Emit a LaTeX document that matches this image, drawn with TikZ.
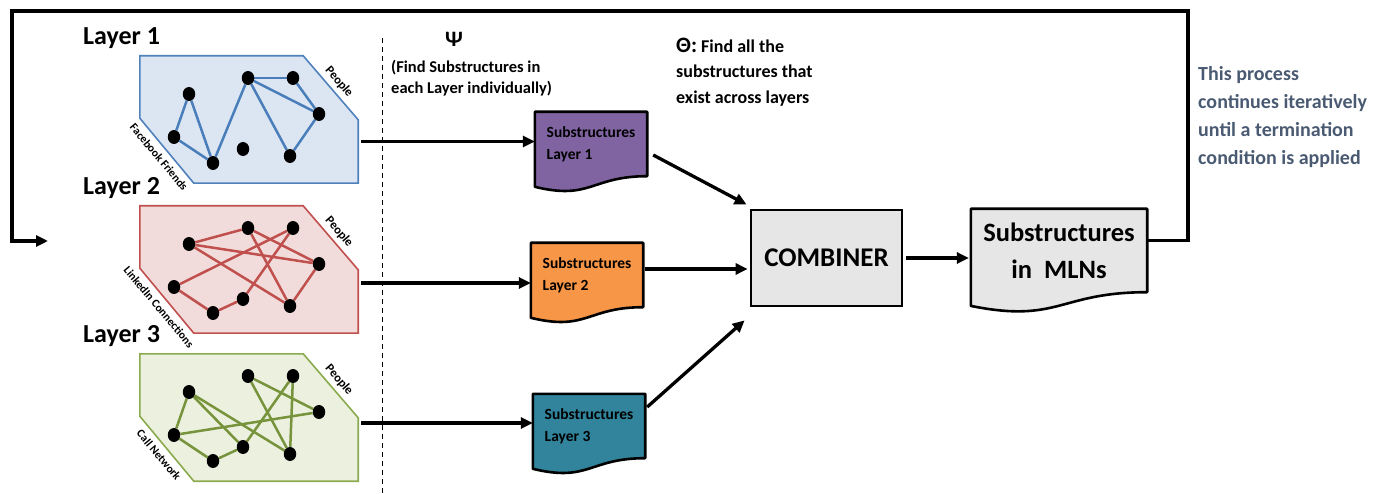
\documentclass[tikz,border=0pt]{standalone}
\usepackage{fontspec}
\setmainfont{Carlito}
\usetikzlibrary{arrows.meta,shapes.geometric}

\definecolor{fbfill}{HTML}{DCE6F2}
\definecolor{fbline}{HTML}{4F81BD}
\definecolor{fbedge}{HTML}{4A7EBB}
\definecolor{lifill}{HTML}{F2DCDB}
\definecolor{liline}{HTML}{C0504D}
\definecolor{liedge}{HTML}{C0504D}
\definecolor{cnfill}{HTML}{EBF1DE}
\definecolor{cnline}{HTML}{8AAA4E}
\definecolor{cnedge}{HTML}{77933C}
\definecolor{docpurple}{HTML}{8064A2}
\definecolor{docorange}{HTML}{F79646}
\definecolor{docteal}{HTML}{31849B}
\definecolor{boxgray}{HTML}{E6E6E6}
\definecolor{notecol}{HTML}{4A5A72}

\pgfdeclarelayer{back}
\pgfdeclarelayer{mid}
\pgfsetlayers{back,mid,main}

\tikzset{
  vert/.style={ellipse, fill=black, inner sep=0pt, minimum width=12.5pt, minimum height=14pt},
  gedge/.style={line width=2.5pt},
  layerbox/.style={minimum width=218pt, minimum height=127pt, inner sep=0pt, draw=none},
  sidelabel/.style={font=\fontsize{11.5}{12}\selectfont\bfseries, inner sep=0pt},
  peoplelabel/.style={font=\fontsize{12.5}{13}\selectfont\bfseries, inner sep=0pt},
  title/.style={font=\fontsize{26}{30}\selectfont\bfseries, inner sep=0pt},
  arr/.style={line width=3.3pt, -{Triangle[length=12pt,width=11pt]}},
  docbox/.style={draw=none, inner sep=0pt, align=left, font=\fontsize{15.5}{22}\selectfont\bfseries},
  docline/.style={line width=2.6pt, draw=black, line join=round},
}

% one network layer: #1 name, #2 vertical offset, #3 fill, #4 border,
% #5 edge colour, #6 edge list, #7 side label, #8 title
\newcommand\netlayer[8]{%
  \begin{scope}[shift={(0,#2)}]
    \node[layerbox] (#1) at (249,119.5) {};
    \foreach \n/\x/\y in {a/189/94,b/174/137,c/213/163,d/248/78,e/293/78,f/319/114,g/290/156,h/243/149}
      \node[vert] (#1\n) at (\x,\y) {};
    \begin{pgfonlayer}{back}
      \draw[fill=#3, draw=#4, line width=1.6pt]
        (#1.north west) -- ([xshift=-55pt]#1.north east) -- ([yshift=-64pt]#1.north east)
        -- (#1.south east) -- ([xshift=54pt]#1.south west) -- ([yshift=65pt]#1.south west) -- cycle;
    \end{pgfonlayer}
    \begin{pgfonlayer}{mid}
      \foreach \u/\v in {#6} \draw[gedge, draw=#5] (#1\u) -- (#1\v);
    \end{pgfonlayer}
    \node[peoplelabel, rotate=-49.3] (#1p) at (339,82) {People};
    \node[sidelabel, rotate=-50] (#1s) at (159,157) {#7};
    \node[title, anchor=base west] (#1t) at (83,45) {#8};
  \end{scope}}

% wavy document outline behind a node: #1 node, #2 fill, #3 wave depth, #4 left drop
\newcommand\wavedoc[4]{%
  \begin{pgfonlayer}{back}
    \draw[docline, fill=#2] (#1.north west) -- (#1.north east) -- (#1.south east)
      .. controls (#1.south) and ([yshift=-#3]#1.south) .. ([yshift=-#4]#1.south west) -- cycle;
  \end{pgfonlayer}}

\begin{document}
\begin{tikzpicture}[x=1pt, y=-1pt, font=\bfseries]
  \useasboundingbox (0,0) rectangle (1379,494);

  % the three layers
  \netlayer{L1}{0}{fbfill}{fbline}{fbedge}{a/b,a/c,b/c,c/d,d/e,d/f,d/g,e/f,f/g}{Facebook Friends}{Layer 1}
  \netlayer{L2}{150}{lifill}{liline}{liedge}{a/d,a/f,a/g,d/f,d/g,e/b,e/h,f/g,b/c,c/h}{LinkedIn Connections}{Layer 2}
  \netlayer{L3}{298}{cnfill}{cnline}{cnedge}{a/b,a/h,a/g,b/f,b/c,c/h,h/e,d/f,d/g,e/g}{Call Network}{Layer 3}

  % separator
  \coordinate (dashTop) at (382,38);
  \coordinate (dashBot) at (382,494);
  \draw[line width=1pt, dash pattern=on 5pt off 4pt] (dashTop) -- (dashBot);

  % headings
  \node[font=\fontsize{22}{24}\selectfont\bfseries, inner sep=0pt] (psi) at (454,39) {Ψ};
  \node[anchor=west, align=left, inner sep=0pt, font=\fontsize{16.5}{21}\selectfont\bfseries] (psitext) at (391,78.5)
    {(Find Substructures in\\each Layer individually)};
  \node[anchor=west, align=left, inner sep=0pt, font=\fontsize{18}{25.5}\selectfont\bfseries] (theta) at (676,72)
    {{\fontsize{22}{25.5}\selectfont Θ:} Find all the\\substructures that\\exist across layers};
  \node[anchor=west, align=left, inner sep=0pt, text=notecol, font=\fontsize{20}{28}\selectfont\bfseries] (note) at (1198,117)
    {This process\\continues iteratively\\until a termination\\condition is applied};

  % per-layer substructure documents
  \node[docbox, minimum width=112pt, minimum height=64pt] (D1) at (591,144) {Substructures\\Layer 1};
  \node[docbox, minimum width=112pt, minimum height=64pt] (D2) at (587,275) {Substructures\\Layer 2};
  \node[docbox, minimum width=112pt, minimum height=64pt] (D3) at (589,426) {Substructures\\Layer 3};
  \wavedoc{D1}{docpurple}{24.3pt}{10.6pt}
  \wavedoc{D2}{docorange}{24.3pt}{10.6pt}
  \wavedoc{D3}{docteal}{24.3pt}{10.6pt}

  % combiner and result
  \node[draw, line width=2.8pt, fill=boxgray, minimum width=151pt, minimum height=96pt,
        font=\fontsize{27}{30}\selectfont\bfseries] (comb) at (826.5,258) {COMBINER};
  \node[docbox, align=center, minimum width=176pt, minimum height=83pt,
        font=\fontsize{26.5}{37}\selectfont\bfseries] (mln) at (1059,250.5) {Substructures\\in\ \ MLNs};
  \wavedoc{mln}{boxgray}{31.5pt}{13.7pt}

  % flows
  \draw[arr] ([xshift=3pt,yshift=-22pt]L1.east) coordinate (s1) -- (s1 -| D1.west);
  \draw[arr] ([xshift=3pt,yshift=-13.5pt]L2.east) coordinate (s2) -- (s2 -| D2.west);
  \draw[arr] ([xshift=3pt,yshift=-5.5pt]L3.east) coordinate (s3) -- (s3 -| D3.west);
  \draw[arr] ([xshift=6pt,yshift=-11pt]D1.east) -- ([xshift=-3pt,yshift=4pt]comb.north west);
  \draw[arr] ([xshift=2pt,yshift=6pt]D2.east) coordinate (s4) -- ([xshift=-2pt]s4 -| comb.west);
  \draw[arr] ([xshift=2pt,yshift=19pt]D3.east) -- ([xshift=-5pt,yshift=-13pt]comb.south west);
  \draw[arr] ([xshift=3pt]comb.east) -- ([xshift=-2pt]comb.east -| mln.west);

  % feedback loop
  \coordinate (loopR) at (1188,11);
  \coordinate (loopL) at (12,11);
  \coordinate (loopEnd) at (48,241);
  \draw[arr, line join=miter] ([yshift=10pt]mln.east) -| (loopR) -- (loopL) |- (loopEnd);
\end{tikzpicture}
\end{document}
